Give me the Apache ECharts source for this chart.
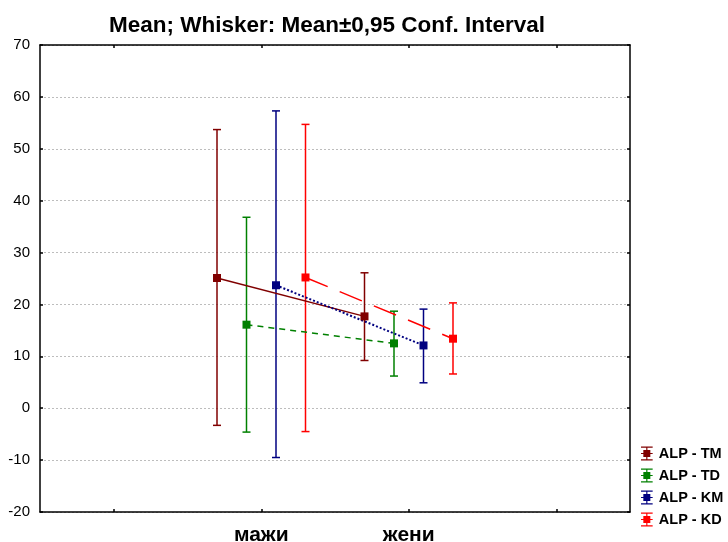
<!DOCTYPE html>
<html><head><meta charset="utf-8">
<script src="https://cdn.jsdelivr.net/npm/echarts@6/dist/echarts.min.js"></script>
<style>html,body{margin:0;padding:0;background:#fff}#c{width:728px;height:542px}</style>
</head><body><div id="c"></div>
<script>
const categories = ['мажи', 'жени'];
const categoryPositions = [2, 3];
const seriesNames = ['ALP - TM', 'ALP - TD', 'ALP - KM', 'ALP - KD'];
const tmMean = [25.1, 17.7];
const tmLow = [-3.3, 9.2];
const tmHigh = [53.7, 26.1];
const tdMean = [16.1, 12.5];
const tdLow = [-4.6, 6.2];
const tdHigh = [36.8, 18.7];
const kmMean = [23.7, 12.1];
const kmLow = [-9.5, 4.9];
const kmHigh = [57.3, 19.1];
const kdMean = [25.2, 13.4];
const kdLow = [-4.5, 6.6];
const kdHigh = [54.7, 20.3];
const yTicks = [-20, -10, 0, 10, 20, 30, 40, 50, 60, 70];

const means = [tmMean, tdMean, kmMean, kdMean];
const lows = [tmLow, tdLow, kmLow, kdLow];
const highs = [tmHigh, tdHigh, kmHigh, kdHigh];
const offsets = [-0.3, -0.1, 0.1, 0.3];
const colors = ['#800000', '#008000', '#000080', '#ff0000'];
const lineTypes = ['solid', [6, 5], [2, 2], [24, 13]];
const lineWidths = [1.5, 1.5, 2, 1.5];

const chart = echarts.init(document.getElementById('c'));
const series = [];
seriesNames.forEach((name, i) => {
  series.push({
    name, type: 'line', xAxisIndex: 0, yAxisIndex: 0,
    data: categoryPositions.map((p, j) => [p + offsets[i], means[i][j]]),
    symbol: 'rect', symbolSize: 8, z: 5,
    itemStyle: { color: colors[i] },
    lineStyle: { color: colors[i], width: lineWidths[i], type: lineTypes[i] },
    animation: false
  });
  series.push({
    name, type: 'custom', xAxisIndex: 0, yAxisIndex: 0, z: 4,
    data: categoryPositions.map((p, j) => [p + offsets[i], lows[i][j], highs[i][j]]),
    renderItem: (params, api) => {
      const lo = api.coord([api.value(0), api.value(1)]);
      const hi = api.coord([api.value(0), api.value(2)]);
      const hw = 4;
      const st = { stroke: colors[i], lineWidth: 1.5, fill: null };
      return { type: 'group', children: [
        { type: 'line', shape: { x1: lo[0], y1: lo[1], x2: hi[0], y2: hi[1] }, style: st },
        { type: 'line', shape: { x1: lo[0] - hw, y1: lo[1], x2: lo[0] + hw, y2: lo[1] }, style: st },
        { type: 'line', shape: { x1: hi[0] - hw, y1: hi[1], x2: hi[0] + hw, y2: hi[1] }, style: st }
      ]};
    },
    animation: false
  });
});

const xAxisBase = {
  type: 'value', min: 0.5, max: 4.5,
  axisLine: { show: true, onZero: false, lineStyle: { color: '#000', width: 1.5 } },
  axisTick: { show: true, inside: true, length: 3, customValues: [1, 2, 3, 4], lineStyle: { color: '#000', width: 1.5 } },
  splitLine: { show: false }
};
const yAxisBase = {
  type: 'value', min: -20, max: 70, interval: 10,
  axisLine: { show: true, lineStyle: { color: '#000', width: 1.5 } },
  axisTick: { show: true, inside: true, length: 3, lineStyle: { color: '#000', width: 1.5 } }
};

chart.setOption({
  backgroundColor: '#fff',
  animation: false,
  title: {
    text: 'Mean; Whisker: Mean±0,95 Conf. Interval',
    left: 322, top: 9, textAlign: 'center',
    textStyle: { fontFamily: 'Liberation Sans, Arial', fontWeight: 'bold', fontSize: 22.5, color: '#000' }
  },
  legend: {
    data: seriesNames, orient: 'vertical', left: 636, top: 441,
    itemWidth: 14, itemHeight: 14, itemGap: 7,
    icon: 'path://M0,0H10V1H0Z M4.5,0H5.5V12H4.5Z M0,11H10V12H0Z M0,5.5H10V6.5H0Z M2,3H8V9H2Z',
    textStyle: { fontFamily: 'Liberation Sans, Arial', fontWeight: 'bold', fontSize: 14.5, color: '#000' },
    selectedMode: false
  },
  grid: { left: 40, right: 98, top: 45, bottom: 30, containLabel: false, outerBoundsMode: 'none' },
  xAxis: [
    Object.assign({}, xAxisBase, {
      position: 'bottom',
      axisLabel: {
        customValues: categoryPositions,
        formatter: v => categories[categoryPositions.indexOf(Math.round(v))] || '',
        fontFamily: 'Liberation Sans, Arial', fontWeight: 'bold', fontSize: 21, color: '#000', margin: 13
      }
    }),
    Object.assign({}, xAxisBase, { position: 'top', axisLabel: { show: false } })
  ],
  yAxis: [
    Object.assign({}, yAxisBase, {
      position: 'left',
      axisLabel: { fontFamily: 'Liberation Sans, Arial', fontSize: 15, color: '#000', margin: 10,
        customValues: yTicks },
      splitLine: { show: true, lineStyle: { color: '#bdbdbd', type: [2, 2], width: 1 } }
    }),
    Object.assign({}, yAxisBase, { position: 'right', axisLabel: { show: false }, splitLine: { show: false } })
  ],
  series
});
</script></body></html>
